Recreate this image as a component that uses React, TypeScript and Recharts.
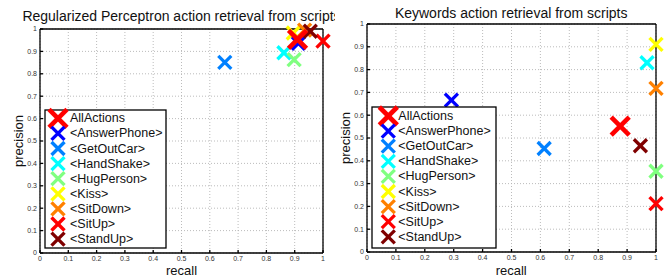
import React from 'react';
import { ScatterChart, Scatter, XAxis, YAxis, CartesianGrid, ReferenceLine } from 'recharts';

const actions = ['AllActions', '<AnswerPhone>', '<GetOutCar>', '<HandShake>', '<HugPerson>', '<Kiss>', '<SitDown>', '<SitUp>', '<StandUp>'];
const actionColors = ['#ff0000', '#0000ff', '#0080ff', '#00ffff', '#80ff80', '#ffff00', '#ff8000', '#ff0000', '#800000'];

const perceptronRecall = [0.91, 0.913, 0.653, 0.862, 0.898, 0.895, 0.935, 1.0, 0.955];
const perceptronPrecision = [0.954, 0.936, 0.851, 0.894, 0.863, 0.982, 0.995, 0.946, 0.99];

const keywordsRecall = [0.876, 0.292, 0.613, 0.969, 1.0, 1.0, 1.0, 1.0, 0.946];
const keywordsPrecision = [0.552, 0.666, 0.454, 0.83, 0.354, 0.911, 0.718, 0.212, 0.466];

const tickValues = [0, 0.1, 0.2, 0.3, 0.4, 0.5, 0.6, 0.7, 0.8, 0.9, 1];
const tickLabels = ['0', '0.1', '0.2', '0.3', '0.4', '0.5', '0.6', '0.7', '0.8', '0.9', '1'];

const FONT = '"Liberation Sans", Arial, Helvetica, sans-serif';

const markerSize = (i: number) => (i === 0 ? { h: 9, w: 4.6 } : { h: 6.5, w: 3.3 });

function Cross({ cx, cy, color, i }: { cx: number; cy: number; color: string; i: number }) {
  const { h, w } = markerSize(i);
  return (
    <g>
      <line x1={cx - h} y1={cy - h} x2={cx + h} y2={cy + h} stroke={color} strokeWidth={w} />
      <line x1={cx - h} y1={cy + h} x2={cx + h} y2={cy - h} stroke={color} strokeWidth={w} />
    </g>
  );
}

type PanelProps = {
  left: number;
  width: number;
  title: string;
  titleCenter: number;
  titleTop: number;
  recall: number[];
  precision: number[];
  marginTop: number;
  marginRight: number;
  yAxisWidth: number;
  xAxisHeight: number;
  precX: number;
  precY: number;
  recallX: number;
  legendBox: { x: number; y: number; w: number; h: number };
  legendRow0: number;
  legendMarkerX: number;
  legendTextX: number;
};

function Panel(p: PanelProps) {
  const H = 278;
  const order = [1, 2, 3, 4, 5, 6, 7, 8, 0];
  return (
    <div style={{ position: 'absolute', left: p.left, top: 0, width: p.width, height: H, overflow: 'hidden' }}>
      <ScatterChart
        width={p.width}
        height={H}
        margin={{ top: p.marginTop, right: p.marginRight, bottom: 0, left: 0 }}
      >
        <CartesianGrid stroke="#b4b4b4" strokeDasharray="1 2" strokeWidth={0.9} horizontalValues={tickValues} verticalValues={tickValues} />
        <XAxis
          type="number"
          dataKey="x"
          domain={[0, 1]}
          ticks={tickValues}
          tickFormatter={(v: number) => tickLabels[tickValues.indexOf(v)] ?? String(v)}
          height={p.xAxisHeight}
          interval={0}
          stroke="#000"
          strokeWidth={1.3}
          tickSize={-3}
          tickMargin={6}
          tick={{ fontSize: 7, fill: '#333', fontFamily: FONT }}
          label={{
            content: () => (
              <text x={p.recallX} y={275} textAnchor="middle" fontSize={13} fontFamily={FONT} fill="#111">
                recall
              </text>
            ),
          }}
        />
        <YAxis
          type="number"
          dataKey="y"
          domain={[0, 1]}
          ticks={tickValues}
          tickFormatter={(v: number) => tickLabels[tickValues.indexOf(v)] ?? String(v)}
          width={p.yAxisWidth}
          interval={0}
          stroke="#000"
          strokeWidth={1.3}
          tickSize={-3}
          tickMargin={6}
          tick={{ fontSize: 7, fill: '#333', fontFamily: FONT }}
          label={{
            content: () => (
              <text
                x={p.precX}
                y={p.precY}
                transform={`rotate(-90 ${p.precX} ${p.precY})`}
                textAnchor="middle"
                dominantBaseline="central"
                fontSize={13}
                fontFamily={FONT}
                fill="#111"
              >
                precision
              </text>
            ),
          }}
        />
        <ReferenceLine y={1} stroke="#000" strokeWidth={1.3} />
        <ReferenceLine x={1} stroke="#000" strokeWidth={1.3} />
        {order.map((i) => (
          <Scatter
            key={actions[i]}
            name={actions[i]}
            data={[{ x: p.recall[i], y: p.precision[i] }]}
            isAnimationActive={false}
            shape={(props: any) => <Cross cx={props.cx} cy={props.cy} color={actionColors[i]} i={i} />}
          />
        ))}
      </ScatterChart>
      <div
        style={{
          position: 'absolute',
          left: p.titleCenter - 250,
          width: 500,
          top: p.titleTop,
          textAlign: 'center',
          whiteSpace: 'nowrap',
          fontFamily: FONT,
          fontSize: 14,
          lineHeight: '14px',
          color: '#111',
        }}
      >
        {p.title}
      </div>
      <svg
        style={{ position: 'absolute', left: 0, top: 0 }}
        width={p.width}
        height={H}
      >
        <rect
          x={p.legendBox.x}
          y={p.legendBox.y}
          width={p.legendBox.w}
          height={p.legendBox.h}
          fill="#fff"
          stroke="#000"
          strokeWidth={1.3}
        />
        {actions.map((a, i) => {
          const y = p.legendRow0 + i * 15.1;
          return (
            <g key={a}>
              <Cross cx={p.legendMarkerX} cy={y} color={actionColors[i]} i={i} />
              <text x={p.legendTextX} y={y} dominantBaseline="central" fontSize={12.5} fontFamily={FONT} fill="#111">
                {a}
              </text>
            </g>
          );
        })}
      </svg>
    </div>
  );
}

export default function App() {
  return (
    <div style={{ position: 'absolute', left: 0, top: 0, width: 665, height: 278, background: '#fff' }}>
      <Panel
        left={0}
        width={335}
        title="Regularized Perceptron action retrieval from scripts"
        titleCenter={181.5}
        titleTop={9}
        recall={perceptronRecall}
        precision={perceptronPrecision}
        marginTop={29}
        marginRight={12}
        yAxisWidth={40}
        xAxisHeight={25}
        precX={18}
        precY={141}
        recallX={181.5}
        legendBox={{ x: 45, y: 110, w: 121, h: 138 }}
        legendRow0={118.3}
        legendMarkerX={58}
        legendTextX={70}
      />
      <Panel
        left={335}
        width={330}
        title="Keywords action retrieval from scripts"
        titleCenter={176.2}
        titleTop={6}
        recall={keywordsRecall}
        precision={keywordsPrecision}
        marginTop={24}
        marginRight={9}
        yAxisWidth={32}
        xAxisHeight={26}
        precX={10}
        precY={138}
        recallX={176.2}
        legendBox={{ x: 37, y: 107, w: 124, h: 141 }}
        legendRow0={116}
        legendMarkerX={53.3}
        legendTextX={63.3}
      />
    </div>
  );
}
